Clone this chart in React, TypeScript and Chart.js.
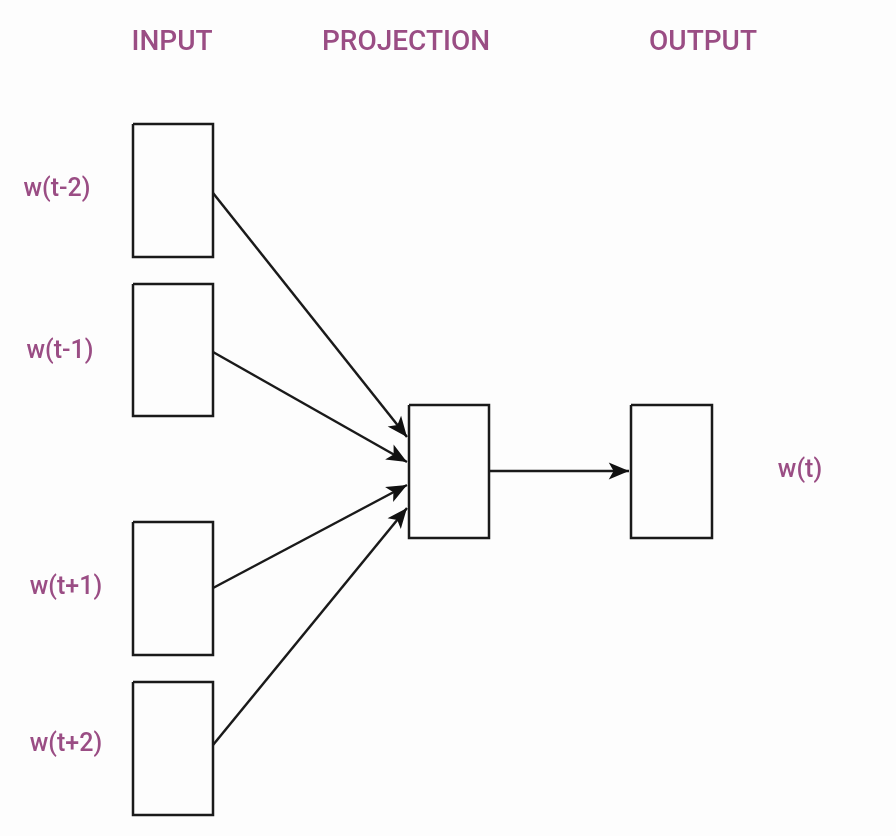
import { useEffect, useRef } from 'react';
import { Chart, registerables } from 'chart.js';

Chart.register(...registerables);

// boxes: [x0, y0, x1, y1] in diagram units
const inputBoxes = [
  [133, 124, 213, 257],
  [133, 284, 213, 416],
  [133, 522, 213, 655],
  [133, 682, 213, 815],
];
const projectionBox = [409, 405, 489, 538];
const outputBox = [631, 405, 712, 538];

// arrows: [x0, y0, x1, y1]
const arrows = [
  [213, 193, 407, 437],
  [213, 352, 407, 462],
  [213, 588, 407, 485],
  [213, 745, 407, 508],
  [489, 471, 629, 471],
];

const headers = [
  { text: 'INPUT', x: 172, y: 43 },
  { text: 'PROJECTION', x: 406, y: 43 },
  { text: 'OUTPUT', x: 703, y: 43 },
];
const wordLabels = [
  { text: 'w(t-2)', x: 57, y: 190 },
  { text: 'w(t-1)', x: 60, y: 352 },
  { text: 'w(t+1)', x: 66, y: 588 },
  { text: 'w(t+2)', x: 66, y: 745 },
  { text: 'w(t)', x: 800, y: 471 },
];

const rect = (b: number[]) => [
  { x: b[0], y: b[1] }, { x: b[2], y: b[1] }, { x: b[2], y: b[3] }, { x: b[0], y: b[3] }, { x: b[0], y: b[1] },
];

const labelPlugin = {
  id: 'diagramExtras',
  afterDatasetsDraw(chart: any) {
    const { ctx, scales } = chart;
    const sx = scales.x, sy = scales.y;
    ctx.save();
    // arrowheads
    ctx.fillStyle = '#111';
    arrows.forEach(a => {
      const x0 = sx.getPixelForValue(a[0]), y0 = sy.getPixelForValue(a[1]);
      const x1 = sx.getPixelForValue(a[2]), y1 = sy.getPixelForValue(a[3]);
      const ang = Math.atan2(y1 - y0, x1 - x0);
      const len = 22, w = 0.4;
      ctx.beginPath();
      ctx.moveTo(x1, y1);
      ctx.lineTo(x1 - len * Math.cos(ang - w), y1 - len * Math.sin(ang - w));
      ctx.lineTo(x1 - len * 0.7 * Math.cos(ang), y1 - len * 0.7 * Math.sin(ang));
      ctx.lineTo(x1 - len * Math.cos(ang + w), y1 - len * Math.sin(ang + w));
      ctx.closePath();
      ctx.fill();
    });
    ctx.fillStyle = '#9a4d84';
    ctx.textAlign = 'center';
    ctx.textBaseline = 'middle';
    ctx.font = '500 28px Roboto, "Liberation Sans", sans-serif';
    headers.forEach(h => ctx.fillText(h.text, sx.getPixelForValue(h.x), sy.getPixelForValue(h.y)));
    ctx.font = '500 25px Roboto, "Liberation Sans", sans-serif';
    wordLabels.forEach(h => ctx.fillText(h.text, sx.getPixelForValue(h.x), sy.getPixelForValue(h.y)));
    ctx.restore();
  },
};

export default function App() {
  const canvasRef = useRef<HTMLCanvasElement>(null);

  useEffect(() => {
    if (!canvasRef.current) return;
    const line = (data: any[], width = 2.5) => ({
      data, showLine: true, pointRadius: 0, borderColor: '#1a1a1a', borderWidth: width, fill: false, tension: 0,
    });
    const datasets = [
      ...inputBoxes.map(b => line(rect(b))),
      line(rect(projectionBox)),
      line(rect(outputBox)),
      ...arrows.map(a => line([{ x: a[0], y: a[1] }, { x: a[2], y: a[3] }])),
    ];
    const chart = new Chart(canvasRef.current, {
      type: 'scatter',
      data: { datasets },
      options: {
        responsive: false,
        animation: false,
        layout: { padding: 0 },
        plugins: { legend: { display: false }, tooltip: { enabled: false } },
        scales: {
          x: { type: 'linear', min: 0, max: 896, display: false },
          y: { type: 'linear', min: 0, max: 836, reverse: true, display: false },
        },
      },
      plugins: [labelPlugin],
    });
    return () => chart.destroy();
  }, []);

  return (
    <div style={{ position: 'absolute', left: 0, top: 0, width: 896, height: 836, background: '#fdfdfd' }}>
      <canvas ref={canvasRef} width={896} height={836} />
    </div>
  );
}
